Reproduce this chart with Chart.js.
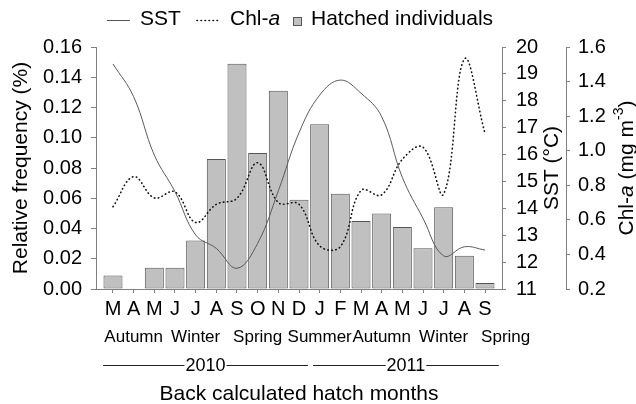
<!DOCTYPE html>
<html>
<head>
<meta charset="utf-8">
<script src="https://cdn.jsdelivr.net/npm/chart.js@4.4.1/dist/chart.umd.min.js"></script>
<style>
  html, body { margin: 0; padding: 0; background: #fff; }
  #wrap { width: 636px; height: 404px; }
</style>
</head>
<body>
<div id="wrap"><canvas id="hatchChart" width="636" height="404"></canvas></div>
<script>
// Back calculated hatch months: Mar 2010 -> Sep 2011
const months = ['M', 'A', 'M', 'J', 'J', 'A', 'S', 'O', 'N', 'D', 'J', 'F', 'M', 'A', 'M', 'J', 'J', 'A', 'S'];
const seasons = ['Autumn', 'Winter', 'Spring', 'Summer', 'Autumn', 'Winter', 'Spring'];
const years = ['2010', '2011'];

// Relative frequency of hatched individuals (%)
const hatched = [0.009, 0, 0.014, 0.014, 0.032, 0.086, 0.149, 0.090, 0.131, 0.059, 0.109, 0.063, 0.045, 0.050, 0.041, 0.027, 0.054, 0.022, 0.004];
// Sea surface temperature (°C)
const sst = [19.37, 18.15, 15.98, 14.62, 13.01, 12.51, 11.77, 12.70, 14.65, 16.81, 18.21, 18.77, 18.28, 17.41, 15.15, 13.63, 12.23, 12.57, 12.45];
// Chlorophyll-a (mg m-3)
const chla = [0.676, 0.85, 0.727, 0.762, 0.585, 0.69, 0.725, 0.93, 0.70, 0.69, 0.45, 0.445, 0.77, 0.745, 0.95, 1.02, 0.75, 1.53, 1.10];

// tick values of the three vertical axes
const freqTicks = [0, 0.02, 0.04, 0.06, 0.08, 0.10, 0.12, 0.14, 0.16];
const sstTicks = [11, 12, 13, 14, 15, 16, 17, 18, 19, 20];
const chlTicks = [0.2, 0.4, 0.6, 0.8, 1.0, 1.2, 1.4, 1.6];

const FONT = '"Liberation Sans", Arial, sans-serif';
const AXIS_GREY = '#808080';

// dessine un texte composé (normal / italique / exposant), centré en (0,0)
function drawParts(ctx, parts, size, align) {
    const fontOf = p => {
        if (p[1] === 'i') return 'italic ' + size + 'px ' + FONT;
        if (p[1] === 'sup') return Math.round(size * 0.65) + 'px ' + FONT;
        return size + 'px ' + FONT;
    };
    let total = 0;
    const widths = parts.map(p => { ctx.font = fontOf(p); const w = ctx.measureText(p[0]).width; total += w; return w; });
    let x = align === 'left' ? 0 : -total / 2;
    ctx.textAlign = 'left';
    ctx.textBaseline = 'middle';
    parts.forEach((p, i) => {
        ctx.font = fontOf(p);
        ctx.fillText(p[0], x, p[1] === 'sup' ? -size * 0.38 : 0);
        x += widths[i];
    });
}

function rotatedTitle(ctx, parts, cx, cy, size) {
    ctx.save();
    ctx.translate(cx, cy);
    ctx.rotate(-Math.PI / 2);
    drawParts(ctx, parts, size);
    ctx.restore();
}

const annotations = {
    id: 'annotations',
    afterDraw(chart) {
        const ctx = chart.ctx;
        const xs = chart.scales.x;
        const area = chart.chartArea;
        const midY = (area.top + area.bottom) / 2;
        ctx.save();
        ctx.fillStyle = '#000';

        // Legend
        ctx.strokeStyle = '#555';
        ctx.lineWidth = 1;
        ctx.beginPath(); ctx.moveTo(107, 20.5); ctx.lineTo(130, 20.5); ctx.stroke();
        ctx.save();
        ctx.strokeStyle = '#111';
        ctx.lineWidth = 1.6;
        ctx.lineCap = 'round';
        ctx.setLineDash([0.5, 3.5]);
        ctx.beginPath(); ctx.moveTo(197, 20.5); ctx.lineTo(218, 20.5); ctx.stroke();
        ctx.restore();
        ctx.fillStyle = '#c0c0c0';
        ctx.fillRect(293.5, 17.5, 8, 8);
        ctx.strokeStyle = '#555';
        ctx.strokeRect(293.5, 17.5, 8, 8);
        ctx.fillStyle = '#000';
        ctx.save(); ctx.translate(140, 19); drawParts(ctx, [['SST', '']], 21, 'left'); ctx.restore();
        ctx.save(); ctx.translate(230, 19); drawParts(ctx, [['Chl-', ''], ['a', 'i']], 21, 'left'); ctx.restore();
        ctx.save(); ctx.translate(311, 19); drawParts(ctx, [['Hatched individuals', '']], 21, 'left'); ctx.restore();

        // Seasons
        ctx.font = '17px ' + FONT;
        ctx.textAlign = 'center';
        ctx.textBaseline = 'middle';
        seasons.forEach((s, i) => {
            ctx.fillText(s, xs.getPixelForValue(1 + 3 * i), 337);
        });

        // Years with their lines
        const spans = [[-0.48, 9.43], [9.68, 18.67]];
        ctx.font = '18px ' + FONT;
        ctx.strokeStyle = '#222';
        ctx.lineWidth = 1;
        years.forEach((y, i) => {
            const x0 = xs.getPixelForValue(spans[i][0]);
            const x1 = xs.getPixelForValue(spans[i][1]);
            const cx = (x0 + x1) / 2;
            const half = ctx.measureText(y).width / 2 + 1;
            ctx.beginPath();
            ctx.moveTo(x0, 365.5); ctx.lineTo(cx - half, 365.5);
            ctx.moveTo(cx + half, 365.5); ctx.lineTo(x1, 365.5);
            ctx.stroke();
            ctx.fillText(y, cx, 366);
        });

        // Axis titles
        ctx.save(); ctx.translate((area.left + area.right) / 2, 394);
        drawParts(ctx, [['Back calculated hatch months', '']], 21); ctx.restore();
        rotatedTitle(ctx, [['Relative frequency (%)', '']], 21, midY, 21);
        rotatedTitle(ctx, [['SST (°C)', '']], 552, midY, 21);
        rotatedTitle(ctx, [['Chl-', ''], ['a', 'i'], [' (mg m', ''], ['-3', 'sup'], [')', '']], 627, midY, 21);
        ctx.restore();
    }
};

const tickFont = { family: FONT, size: 20 };

new Chart(document.getElementById('hatchChart'), {
    type: 'bar',
    data: {
        labels: months.map((m, i) => i),
        datasets: [
            {
                type: 'line',
                label: 'SST',
                data: sst,
                yAxisID: 'ySST',
                borderColor: '#5a5a5a',
                borderWidth: 1,
                pointRadius: 0,
                tension: 0.4,
                fill: false,
                order: 1
            },
            {
                type: 'line',
                label: 'Chl-a',
                data: chla,
                yAxisID: 'yChl',
                borderColor: '#111',
                borderWidth: 1.6,
                borderDash: [0.5, 3.5],
                borderCapStyle: 'round',
                pointRadius: 0,
                tension: 0.4,
                fill: false,
                order: 2
            },
            {
                label: 'Hatched individuals',
                data: hatched,
                yAxisID: 'y',
                backgroundColor: '#c0c0c0',
                borderColor: '#555',
                borderWidth: c => (c.raw === 0 ? 0 : 1),
                borderSkipped: false,
                barPercentage: 0.92,
                categoryPercentage: 1,
                order: 3
            }
        ]
    },
    options: {
        responsive: false,
        animation: false,
        devicePixelRatio: 1,
        layout: { padding: { top: 47, left: 0, right: 0, bottom: 0 } },
        plugins: { legend: { display: false }, tooltip: { enabled: false } },
        scales: {
            x: {
                type: 'linear',
                position: 'bottom',
                offset: false,
                min: -0.822,
                max: 18.822,
                afterBuildTicks: s => { s.ticks = months.map((m, i) => ({ value: i })); },
                afterFit: s => { s.height = 115; },
                grid: { offset: false, drawOnChartArea: false, tickLength: 4, color: AXIS_GREY },
                border: { color: AXIS_GREY },
                ticks: {
                    font: tickFont, color: '#000', padding: 4, maxRotation: 0, autoSkip: false,
                    callback: v => months[Math.round(v)]
                }
            },
            y: {
                position: 'left',
                min: 0,
                max: 0.16,
                afterBuildTicks: s => { s.ticks = freqTicks.map(v => ({ value: v })); },
                afterFit: s => { s.width = 96; },
                grid: { drawOnChartArea: false, tickLength: 5, color: AXIS_GREY },
                border: { color: AXIS_GREY },
                ticks: { font: tickFont, color: '#000', padding: 9, autoSkip: false, callback: v => v.toFixed(2) }
            },
            ySST: {
                position: 'right',
                weight: 0,
                min: 11,
                max: 20,
                afterBuildTicks: s => { s.ticks = sstTicks.map(v => ({ value: v })); },
                afterFit: s => { s.width = 64; },
                grid: { drawOnChartArea: false, tickLength: 4, color: AXIS_GREY },
                border: { color: AXIS_GREY },
                ticks: { font: tickFont, color: '#000', padding: 10, autoSkip: false, callback: v => String(v) }
            },
            yChl: {
                position: 'right',
                weight: 1,
                min: 0.2,
                max: 1.6,
                afterBuildTicks: s => { s.ticks = chlTicks.map(v => ({ value: v })); },
                afterFit: s => { s.width = 70; },
                grid: { drawOnChartArea: false, tickLength: 4, color: AXIS_GREY },
                border: { color: AXIS_GREY },
                ticks: { font: tickFont, color: '#000', padding: 8, autoSkip: false, callback: v => v.toFixed(1) }
            }
        }
    },
    plugins: [annotations]
});
</script>
</body>
</html>
